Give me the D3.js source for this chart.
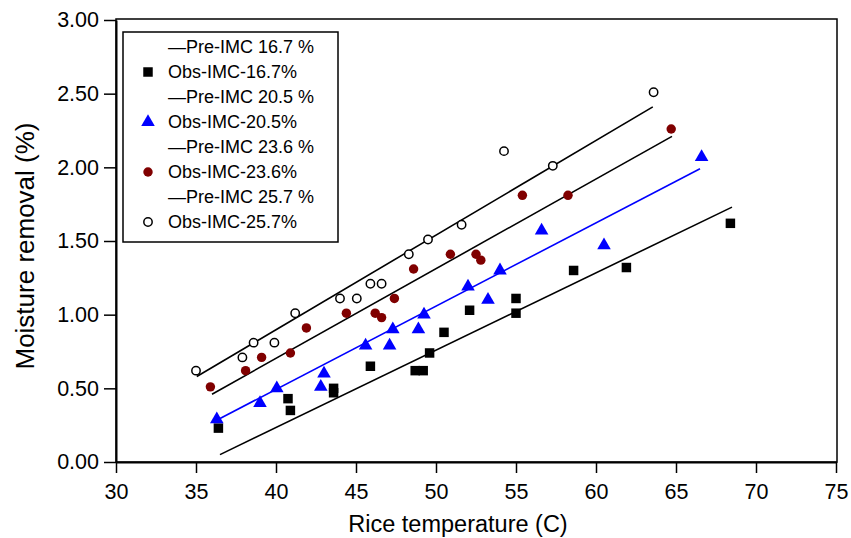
<!DOCTYPE html>
<html lang="en">
<head>
    <meta charset="UTF-8">
    <title>Moisture removal</title>
    <style>
        body{ margin:0; background:#fff; }
        #main{ width:851px; height:538px; }
        text{ font-family:"Liberation Sans", Arial, sans-serif; fill:#000; }
    </style>
</head>
<body>
<div id="main"></div>
<script src="https://d3js.org/d3.v7.min.js"></script>
<script>
    /*=========== data ===========*/
    const xTicks=[30,35,40,45,50,55,60,65,70,75]
    const yTicks=[0,0.5,1,1.5,2,2.5,3]

    // observed, 16.7 %
    const t167=[36.4,40.75,40.9,43.6,43.6,45.9,48.7,49.2,49.6,50.5,52.1,55.0,55.0,58.6,61.9,68.4]
    const m167=[0.23,0.43,0.35,0.50,0.47,0.65,0.62,0.62,0.74,0.88,1.03,1.11,1.01,1.30,1.32,1.62]
    // observed, 20.5 %
    const t205=[36.3,39.0,40.05,42.8,43.0,45.6,47.1,47.3,48.9,49.25,52.0,53.25,54.0,56.6,60.5,66.6]
    const m205=[0.29,0.40,0.50,0.51,0.60,0.79,0.79,0.90,0.90,1.00,1.19,1.10,1.30,1.57,1.47,2.07]
    // observed, 23.6 %
    const t236=[35.9,38.1,39.1,40.9,41.9,44.4,46.2,46.6,47.4,48.6,50.9,52.5,52.8,55.4,58.25,64.7]
    const m236=[0.51,0.62,0.71,0.74,0.91,1.01,1.01,0.98,1.11,1.31,1.41,1.41,1.37,1.81,1.81,2.26]
    // observed, 25.7 %
    const t257=[35.0,37.9,38.6,39.9,41.2,44.0,45.05,45.9,46.6,48.3,49.5,51.6,54.25,57.3,63.6]
    const m257=[0.62,0.71,0.81,0.81,1.01,1.11,1.11,1.21,1.21,1.41,1.51,1.61,2.11,2.01,2.51]

    // predicted lines (start / end)
    const preT167=[36.5,68.5], preM167=[0.05,1.73]
    const preT205=[36.05,66.5], preM205=[0.27,1.99]
    const preT236=[36.0,64.75], preM236=[0.46,2.21]
    const preT257=[35.05,63.55], preM257=[0.58,2.41]

    const legendLabels=['—Pre-IMC 16.7 %','Obs-IMC-16.7%','—Pre-IMC 20.5 %','Obs-IMC-20.5%',
        '—Pre-IMC 23.6 %','Obs-IMC-23.6%','—Pre-IMC 25.7 %','Obs-IMC-25.7%']

    /*=========== container ===========*/
    const width=851
    const height=538
    const svg=d3.select('#main').append('svg')
        .attr('width',width)
        .attr('height',height)
        .attr('viewBox',`0 0 ${width} ${height}`)

    const pLeft=116, pRight=836, pTop=20, pBottom=462

    const xScale=d3.scaleLinear().domain([30,75]).range([pLeft,pRight])
    const yScale=d3.scaleLinear().domain([0,3]).range([pBottom,pTop])

    // frame
    svg.append('rect')
        .attr('x',pLeft).attr('y',pTop-1)
        .attr('width',pRight-pLeft+1).attr('height',pBottom-pTop+1)
        .attr('fill','none').attr('stroke','#000').attr('stroke-width',1.5)

    /*=========== axes ===========*/
    const xAxis=svg.append('g')
        .attr('transform',`translate(0 ${pBottom})`)
        .call(d3.axisBottom(xScale).tickValues(xTicks).tickSize(11).tickPadding(11).tickSizeOuter(0))
    const yAxis=svg.append('g')
        .attr('transform',`translate(${pLeft} 0)`)
        .call(d3.axisLeft(yScale).tickValues(yTicks).tickFormat(d3.format('.2f')).tickSize(12).tickPadding(5).tickSizeOuter(0))
    ;[xAxis,yAxis].forEach(g=>{
        g.attr('font-family',null).attr('font-size',null)
        g.select('.domain').attr('stroke-width',2)
        g.selectAll('.tick line').attr('stroke-width',1.5)
        g.selectAll('.tick text').style('font-size','21.5px')
    })

    svg.append('text')
        .attr('x',458).attr('y',532)
        .attr('text-anchor','middle')
        .style('font-size','23.5px')
        .text('Rice temperature (C)')
    svg.append('text')
        .attr('transform',`translate(34 246) rotate(-90)`)
        .attr('text-anchor','middle')
        .style('font-size','26px')
        .text('Moisture removal (%)')

    /*=========== predicted lines ===========*/
    const line=d3.line().x(d=>xScale(d[0])).y(d=>yScale(d[1]))
    const preLines=[
        {t:preT167,m:preM167,c:'#000'},
        {t:preT205,m:preM205,c:'#0000ff'},
        {t:preT236,m:preM236,c:'#000'},
        {t:preT257,m:preM257,c:'#000'}
    ]
    preLines.forEach(p=>{
        svg.append('path')
            .attr('d',line(d3.zip(p.t,p.m)))
            .attr('fill','none').attr('stroke',p.c).attr('stroke-width',1.6)
    })

    /*=========== observed points ===========*/
    const sq=d3.symbol().type(d3.symbolSquare).size(90)
    const tri=d3.symbol().type(d3.symbolTriangle).size(80)
    const cir=d3.symbol().type(d3.symbolCircle).size(70)
    const ocir=d3.symbol().type(d3.symbolCircle).size(55)

    const obs=[
        {t:t167,m:m167,sym:sq,fill:'#000',stroke:'none'},
        {t:t205,m:m205,sym:tri,fill:'#0000ff',stroke:'none'},
        {t:t236,m:m236,sym:cir,fill:'#800000',stroke:'none'},
        {t:t257,m:m257,sym:ocir,fill:'#fff',stroke:'#000'}
    ]
    obs.forEach(s=>{
        svg.append('g').selectAll('path')
            .data(d3.zip(s.t,s.m))
            .join('path')
            .attr('transform',d=>`translate(${xScale(d[0])} ${yScale(d[1])})`)
            .attr('d',s.sym())
            .attr('fill',s.fill)
            .attr('stroke',s.stroke)
            .attr('stroke-width',1.5)
    })

    /*=========== legend ===========*/
    const legend=svg.append('g')
    legend.append('rect')
        .attr('x',123).attr('y',32).attr('width',215).attr('height',210)
        .attr('fill','#fff').attr('stroke','#000').attr('stroke-width',1.5)
    legendLabels.forEach((lab,i)=>{
        const y=47+i*25
        legend.append('text')
            .attr('x',168).attr('y',y).attr('dy','0.35em')
            .style('font-size','18px')
            .text(lab)
        if(i%2===1){
            const s=obs[(i-1)/2]
            legend.append('path')
                .attr('transform',`translate(148 ${y})`)
                .attr('d',s.sym())
                .attr('fill',s.fill).attr('stroke',s.stroke).attr('stroke-width',1.5)
        }
    })
</script>
</body>
</html>
